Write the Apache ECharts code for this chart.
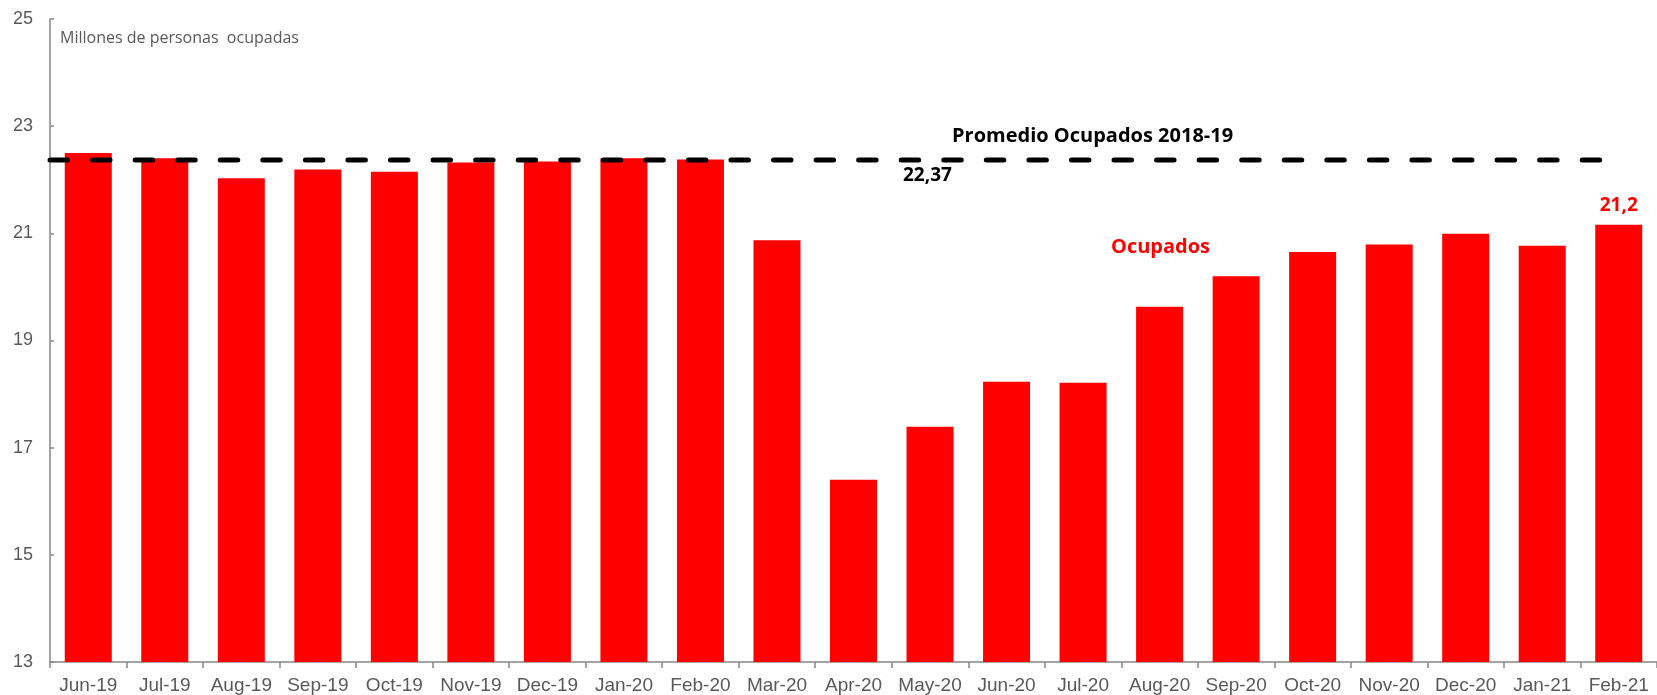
<!DOCTYPE html>
<html><head><meta charset="utf-8">
<script src="https://cdn.jsdelivr.net/npm/echarts@6/dist/echarts.min.js"></script>
<style>html,body{margin:0;padding:0;background:#fff}#c{width:1657px;height:695px}</style>
</head><body><div id="c"></div>
<script>
const categories = ["Jun-19","Jul-19","Aug-19","Sep-19","Oct-19","Nov-19","Dec-19","Jan-20","Feb-20","Mar-20","Apr-20","May-20","Jun-20","Jul-20","Aug-20","Sep-20","Oct-20","Nov-20","Dec-20","Jan-21","Feb-21"];
const ocupados = [22.50,22.40,22.03,22.19,22.15,22.32,22.34,22.40,22.38,20.87,16.40,17.39,18.23,18.21,19.63,20.20,20.65,20.79,20.99,20.77,21.16];
const promedio = 22.37;
const yTicks = {min: 13, max: 25, interval: 2};
const fmt = (v, d) => v.toFixed(d).replace('.', ',');

const chart = echarts.init(document.getElementById('c'));
const N = categories.length;
chart.setOption({
  animation: false,
  grid: {left: 50, top: 19, width: 1610, height: 644, containLabel: false},
  xAxis: [{
    type: 'category', data: categories,
    axisLine: {lineStyle: {color: '#868686', width: 1.5}},
    axisTick: {show: true, interval: 0, length: 6, lineStyle: {color: '#868686', width: 1.5}},
    axisLabel: {interval: 0, color: '#595959', fontFamily: 'Liberation Sans', fontSize: 19, margin: 14}
  }, {
    type: 'value', min: 0, max: N, show: false
  }],
  yAxis: {
    type: 'value', min: yTicks.min, max: yTicks.max, interval: yTicks.interval,
    splitLine: {show: false},
    axisLine: {show: true, lineStyle: {color: '#868686', width: 1.5}},
    axisTick: {show: true, inside: true, length: 4, lineStyle: {color: '#868686', width: 1.5}},
    axisLabel: {color: '#595959', fontFamily: 'Liberation Sans', fontSize: 18, margin: 17}
  },
  series: [{
    type: 'bar', data: ocupados.map((v, i) => i === N - 1 ? {value: v, label: {show: true}} : v),
    barWidth: 47,
    itemStyle: {color: '#FF0000'},
    label: {show: false, position: 'top', distance: 10, color: '#FF0000', fontFamily: 'Open Sans', fontWeight: 'bold', fontSize: 19,
      formatter: p => fmt(p.value, 1)},
    z: 2
  }, {
    type: 'line', xAxisIndex: 1,
    data: [[0, promedio], [20.3, promedio]],
    symbol: 'none',
    lineStyle: {color: '#000', width: 5, type: [17.5, 25.06], cap: 'round'},
    z: 3
  }],
  graphic: [
    {type: 'text', x: 60, y: 38.5, style: {text: 'Millones de personas  ocupadas', fill: '#595959', font: '16px "Open Sans"', verticalAlign: 'middle'}},
    {type: 'text', x: 952, y: 136, style: {text: 'Promedio Ocupados 2018-19', fill: '#000', font: 'bold 20px "Open Sans"', verticalAlign: 'middle'}},
    {type: 'text', x: 903, y: 176, style: {text: fmt(promedio, 2), fill: '#000', font: 'bold 19px "Open Sans"', verticalAlign: 'middle'}},
    {type: 'text', x: 1111, y: 247, style: {text: 'Ocupados', fill: '#FF0000', font: 'bold 20px "Open Sans"', verticalAlign: 'middle'}}
  ]
});
</script></body></html>
